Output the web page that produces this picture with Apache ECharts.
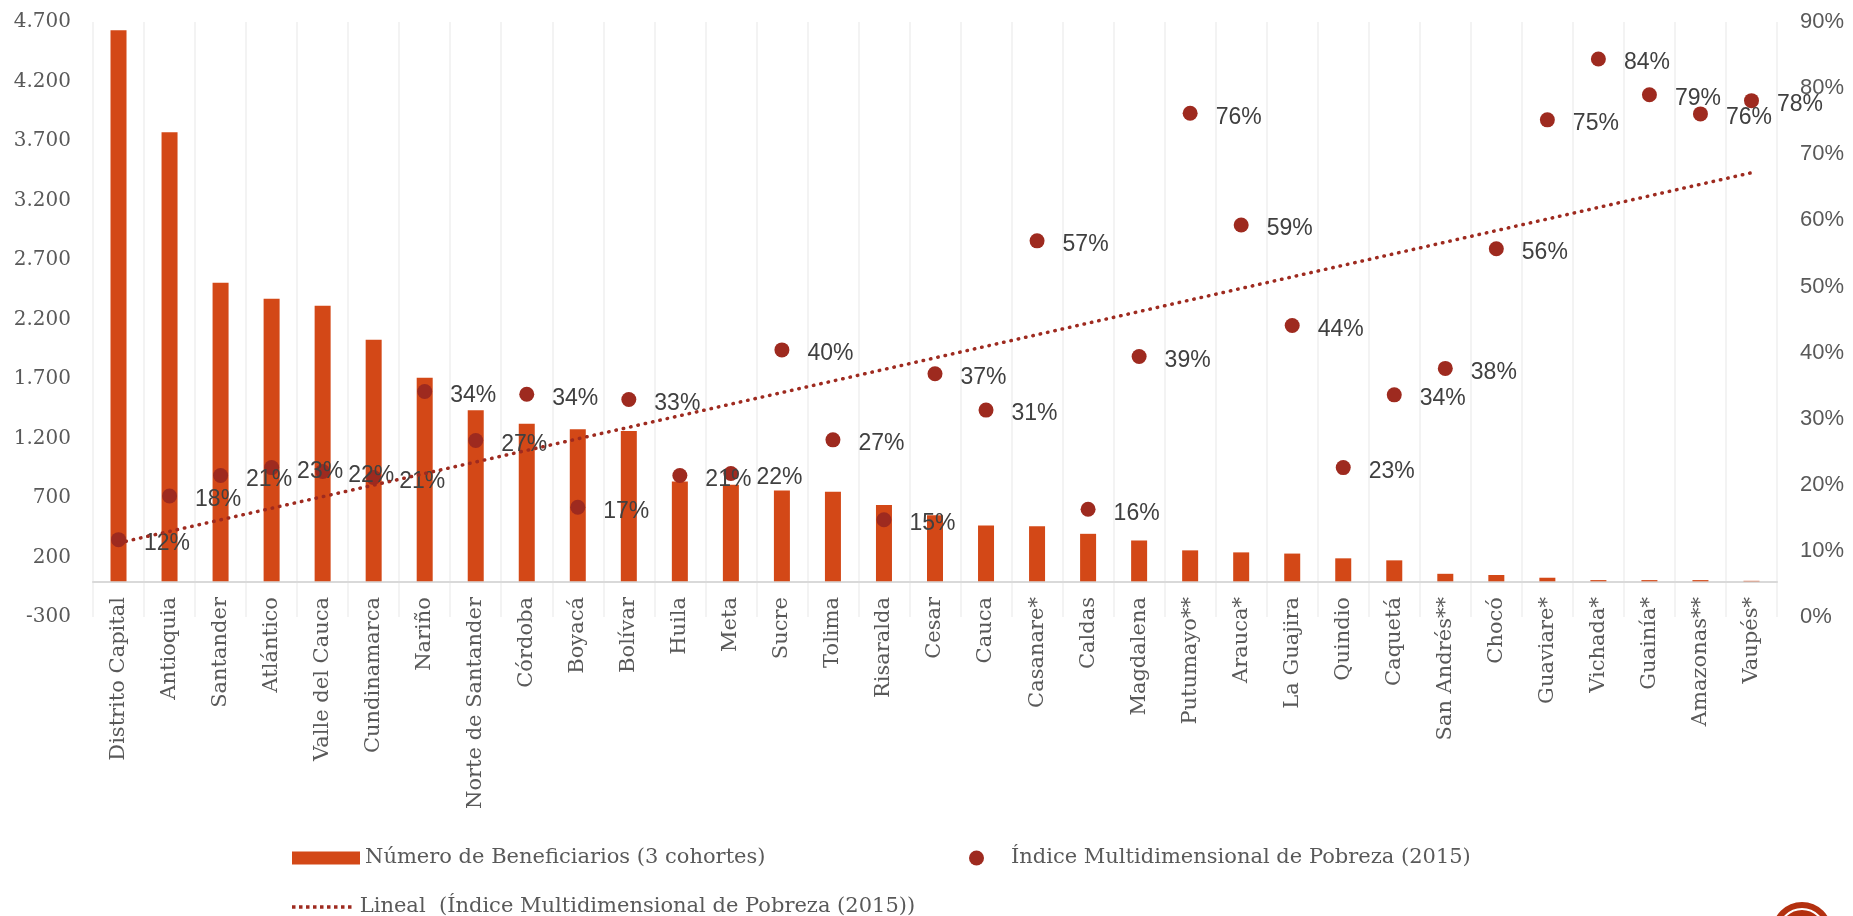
<!DOCTYPE html>
<html>
<head>
<meta charset="utf-8">
<title>Beneficiarios e IPM por departamento</title>
<script src="https://cdn.jsdelivr.net/npm/echarts@6/dist/echarts.min.js"></script>
<style>
  html, body { margin: 0; padding: 0; background: #fff; }
  #chart { width: 1853px; height: 916px; }
</style>
</head>
<body>
<div id="chart"></div>
<script>
const categories = [
  'Distrito Capital', 'Antioquia', 'Santander', 'Atlántico', 'Valle del Cauca', 'Cundinamarca',
  'Nariño', 'Norte de Santander', 'Córdoba', 'Boyacá', 'Bolívar', 'Huila', 'Meta', 'Sucre',
  'Tolima', 'Risaralda', 'Cesar', 'Cauca', 'Casanare*', 'Caldas', 'Magdalena', 'Putumayo**',
  'Arauca*', 'La Guajira', 'Quindio', 'Caquetá', 'San Andrés**', 'Chocó', 'Guaviare*',
  'Vichada*', 'Guainía*', 'Amazonas**', 'Vaupés*'
]

// Número de beneficiarios (3 cohortes), eje izquierdo
const beneficiarios = [
  4631, 3773, 2509, 2375, 2316, 2029, 1710, 1437, 1324, 1278, 1264, 838, 812, 762,
  752, 642, 555, 469, 462, 399, 343, 260, 243, 233, 193, 176, 63, 53, 30,
  10, 10, 10, 4
]

// Índice Multidimensional de Pobreza (2015), eje derecho
const ipm = [
  0.117, 0.183, 0.214, 0.226, 0.220, 0.211, 0.341, 0.267, 0.337, 0.166, 0.329, 0.214, 0.217, 0.404,
  0.268, 0.147, 0.368, 0.313, 0.569, 0.163, 0.394, 0.762, 0.593, 0.441, 0.226, 0.336, 0.376, 0.557, 0.752,
  0.844, 0.790, 0.761, 0.781
]

const trendEnds = [0.112, 0.672]

const leftTicks = [-300, 200, 700, 1200, 1700, 2200, 2700, 3200, 3700, 4200, 4700]

const barName = 'Número de Beneficiarios (3 cohortes)'
const dotName = 'Índice Multidimensional de Pobreza (2015)'
const trendName = 'Lineal  (Índice Multidimensional de Pobreza (2015))'

const BAR = '#D34817'
const DOT = '#9E2A1F'
const GREY = '#595959'

const fmtMiles = (v) => String(v).replace(/\B(?=(\d{3})+(?!\d))/g, '.')

// icono punteado para la leyenda de la tendencia
const dottedIcon = 'path://' + Array.from({ length: 9 }, (_, i) => 'M' + (i * 2) + ',0h1v1h-1z').join(' ')

const legendText = { fontFamily: 'DejaVu Serif', fontSize: 21, color: GREY, lineHeight: 24 }

const chart = echarts.init(document.getElementById('chart'))
chart.setOption({
  animation: false,
  grid: { left: 93, right: 76, top: 22, bottom: 299 },
  legend: [
    {
      data: [{ name: barName, icon: 'rect' }], left: 287, top: 841, selectedMode: false,
      itemWidth: 68, itemHeight: 13, itemGap: 0, textStyle: legendText
    },
    {
      data: [{ name: dotName, icon: 'circle' }], left: 964, top: 841, selectedMode: false,
      itemWidth: 15, itemHeight: 15, textStyle: Object.assign({}, legendText, { padding: [0, 0, 0, 22] })
    },
    {
      data: [{ name: trendName, icon: dottedIcon }], left: 287, top: 890, selectedMode: false,
      itemWidth: 66, itemHeight: 3.5, itemStyle: { color: DOT }, textStyle: legendText
    }
  ],
  xAxis: {
    type: 'category',
    data: categories,
    boundaryGap: true,
    axisLine: { onZero: true, onZeroAxisIndex: 0, lineStyle: { color: '#d9d9d9', width: 2 } },
    axisTick: { show: false },
    splitLine: { show: true, lineStyle: { color: '#efefef', width: 1.5 } },
    axisLabel: {
      rotate: 90, margin: -20, interval: 0,
      fontFamily: 'DejaVu Serif', fontSize: 21, color: GREY
    }
  },
  yAxis: [
    {
      type: 'value',
      min: -300,
      max: 4700,
      axisLine: { show: false },
      axisTick: { show: false },
      splitLine: { show: false },
      axisLabel: {
        customValues: leftTicks,
        margin: 22,
        fontFamily: 'DejaVu Serif', fontSize: 20, color: GREY,
        formatter: fmtMiles
      }
    },
    {
      type: 'value',
      min: 0,
      max: 0.9,
      interval: 0.1,
      axisLine: { show: false },
      axisTick: { show: false },
      splitLine: { show: false },
      axisLabel: {
        margin: 23,
        fontFamily: 'Liberation Sans', fontSize: 22, color: GREY,
        formatter: (v) => Math.round(v * 100) + '%'
      }
    }
  ],
  series: [
    {
      name: barName,
      type: 'bar',
      yAxisIndex: 0,
      barWidth: 16,
      itemStyle: { color: BAR },
      data: beneficiarios
    },
    {
      name: dotName,
      type: 'scatter',
      yAxisIndex: 1,
      symbolSize: 15,
      itemStyle: { color: DOT, opacity: 1 },
      label: {
        show: true,
        position: 'right',
        distance: 18,
        offset: [0, 4],
        fontFamily: 'Liberation Sans', fontSize: 23, color: '#404040',
        formatter: (p) => Math.round(p.value * 100) + '%'
      },
      data: ipm,
      z: 3
    },
    {
      name: trendName,
      type: 'line',
      yAxisIndex: 1,
      symbol: 'none',
      lineStyle: { color: DOT, width: 3.5, type: [0.5, 7], cap: 'round' },
      itemStyle: { color: DOT },
      data: [
        [categories[0], trendEnds[0]],
        [categories[categories.length - 1], trendEnds[1]]
      ],
      z: 4
    }
  ],
  graphic: [
    { type: 'circle', shape: { cx: 1802, cy: 932, r: 30 }, style: { fill: '#B3300F' }, silent: true },
    { type: 'circle', shape: { cx: 1802, cy: 932, r: 23 }, style: { fill: 'none', stroke: '#fff', lineWidth: 2 }, silent: true }
  ]
})
</script>
</body>
</html>
